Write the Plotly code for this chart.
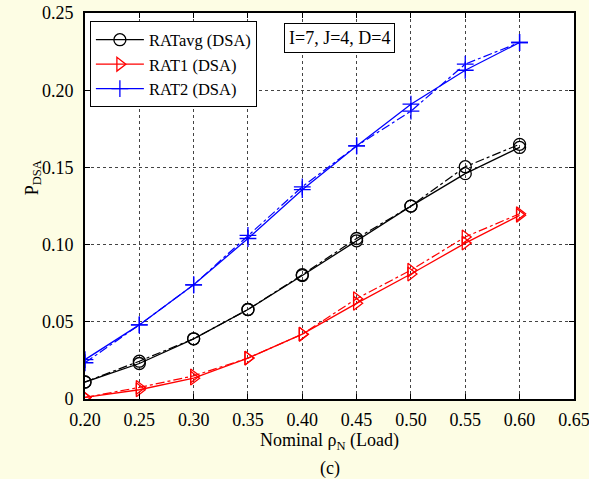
import plotly.graph_objects as go

# Nominal load values on the x axis
load = [0.20, 0.25, 0.30, 0.35, 0.40, 0.45, 0.50, 0.55, 0.60]

# P_DSA per RAT: solid = analysis, dash-dot = simulation
ratavg_solid = [0.011, 0.023, 0.039, 0.058, 0.080, 0.1025, 0.125, 0.146, 0.163]
ratavg_dash = [0.011, 0.0245, 0.039, 0.058, 0.0805, 0.104, 0.125, 0.1505, 0.165]
rat1_solid = [0.001, 0.006, 0.0135, 0.0265, 0.042, 0.062, 0.081, 0.101, 0.119]
rat1_dash = [0.001, 0.0075, 0.0150, 0.0265, 0.042, 0.065, 0.0835, 0.105, 0.120]
rat2_solid = [0.0255, 0.048, 0.074, 0.104, 0.1356, 0.164, 0.191, 0.213, 0.231]
rat2_dash = [0.0235, 0.048, 0.074, 0.106, 0.1375, 0.164, 0.1865, 0.217, 0.231]

x_ticks = [0.20, 0.25, 0.30, 0.35, 0.40, 0.45, 0.50, 0.55, 0.60, 0.65]
y_ticks = [0, 0.05, 0.10, 0.15, 0.20, 0.25]
y_tick_text = ["0", "0.05", "0.10", "0.15", "0.20", "0.25"]

FONT = "Liberation Serif"

series = [
    ("RATavg (DSA)", "black", "circle-open", ratavg_solid, ratavg_dash),
    ("RAT1 (DSA)", "red", "triangle-right-open", rat1_solid, rat1_dash),
    ("RAT2 (DSA)", "blue", "cross-thin-open", rat2_solid, rat2_dash),
]

fig = go.Figure()
for name, color, symbol, solid, dash in series:
    fig.add_trace(go.Scatter(
        x=load, y=dash, mode="lines+markers", showlegend=False,
        line=dict(color=color, width=1.2, dash="dashdot"),
        marker=dict(symbol=symbol, size=12, color=color,
                    line=dict(color=color, width=1.3)),
    ))
for name, color, symbol, solid, dash in series:
    fig.add_trace(go.Scatter(
        x=load, y=solid, mode="lines+markers", name=name,
        line=dict(color=color, width=1.3),
        marker=dict(symbol=symbol, size=12, color=color,
                    line=dict(color=color, width=1.3)),
    ))

axis_common = dict(
    showline=True, linecolor="black", linewidth=2, mirror="ticks",
    ticks="inside", ticklen=5, tickwidth=1, tickcolor="black",
    showgrid=True, gridcolor="#444444", griddash="dot", gridwidth=1,
    zeroline=False, automargin=False, ticklabeloverflow="allow",
    tickfont=dict(family=FONT, size=18, color="black"),
)

fig.update_xaxes(range=[0.20, 0.6501], tickvals=x_ticks,
                 ticktext=[f"{v:.2f}" for v in x_ticks],
                 ticklabelstandoff=3, **axis_common)
fig.update_yaxes(range=[0, 0.2501], tickvals=y_ticks, ticktext=y_tick_text,
                 ticklabelstandoff=6, **axis_common)

fig.add_annotation(
    x=0.407, y=0.974, xref="paper", yref="paper", xanchor="left", yanchor="top",
    text="I=7, J=4, D=4", showarrow=False,
    font=dict(family=FONT, size=18, color="black"),
    bgcolor="white", bordercolor="black", borderwidth=1, borderpad=4,
)
fig.add_annotation(
    x=0.5, y=-0.11, xref="paper", yref="paper", yanchor="middle",
    text="Nominal ρ<sub>N</sub> (Load)", showarrow=False,
    font=dict(family=FONT, size=18, color="black"),
)
fig.add_annotation(
    x=0.5, y=-0.181, xref="paper", yref="paper", yanchor="middle",
    text="(c)", showarrow=False,
    font=dict(family=FONT, size=18, color="black"),
)
fig.add_annotation(
    x=-0.133, y=0.573, xref="paper", yref="paper", textangle=-90,
    text="P<sub>DSA</sub>", showarrow=False,
    font=dict(family=FONT, size=18, color="black"),
)

fig.update_layout(
    width=589, height=479,
    margin=dict(l=85, r=15, t=13, b=80),
    paper_bgcolor="#fdfde4", plot_bgcolor="white",
    font=dict(family=FONT, size=18, color="black"),
    legend=dict(x=0.01, y=0.978, xanchor="left", yanchor="top",
                bgcolor="white", bordercolor="black", borderwidth=1,
                font=dict(family=FONT, size=16.5, color="black"),
                itemwidth=48, tracegroupgap=0),
)

fig.write_html("out.html")
